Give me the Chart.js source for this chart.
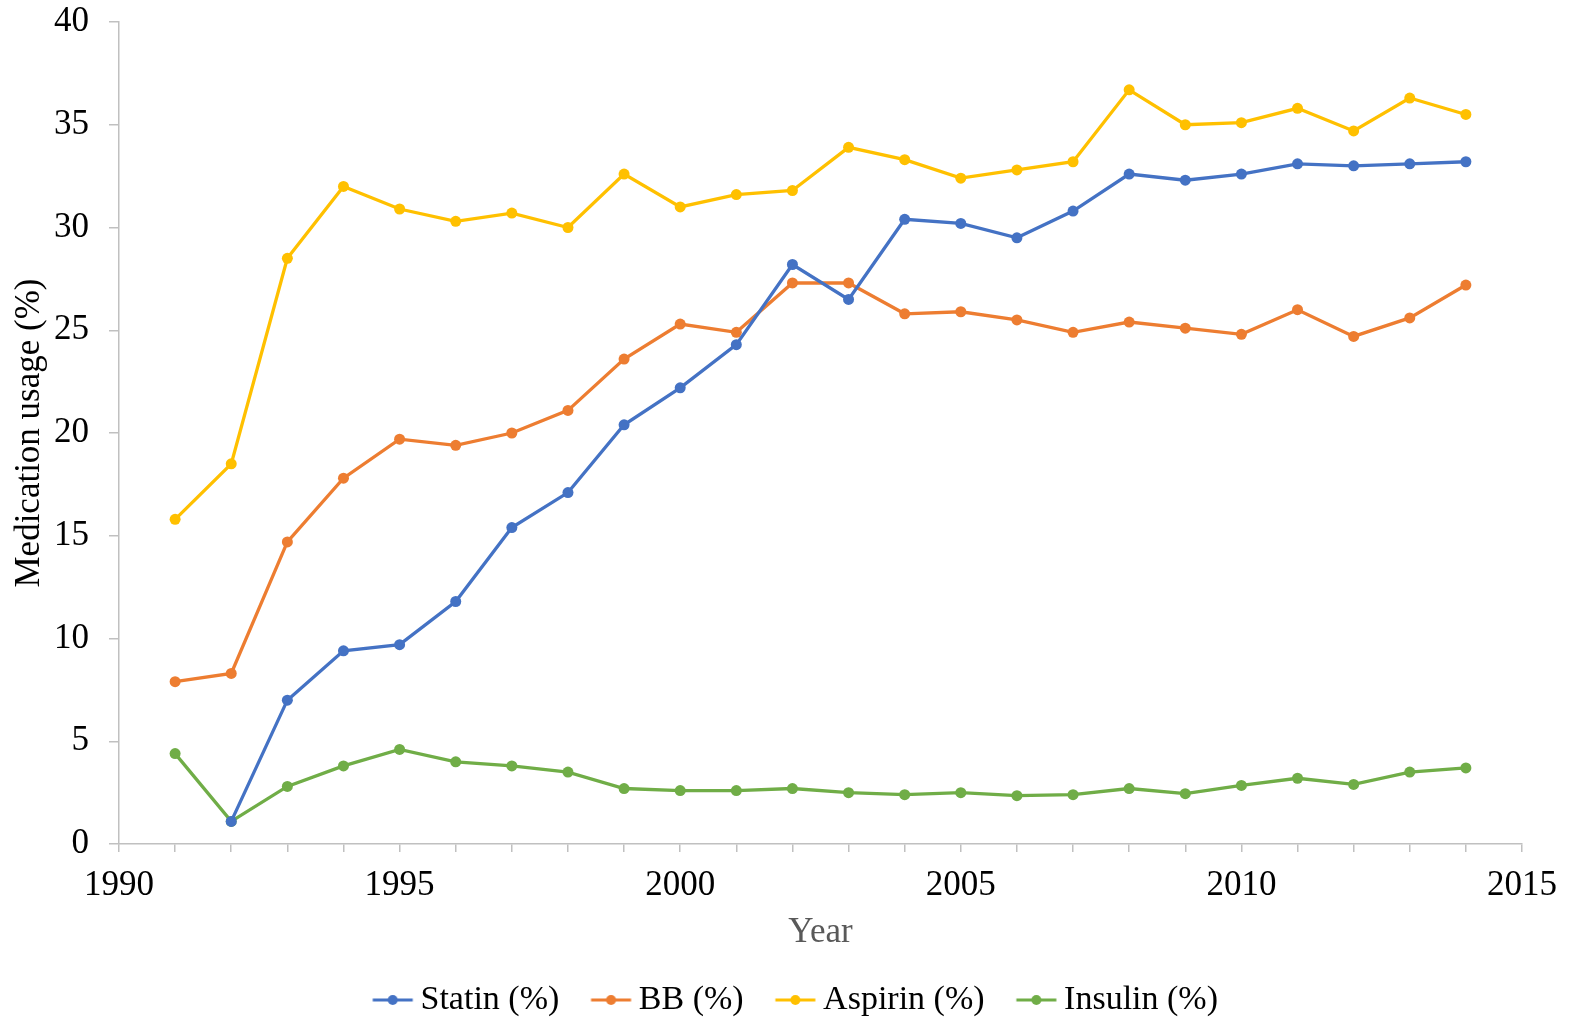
<!DOCTYPE html>
<html>
<head>
<meta charset="utf-8">
<title>Medication usage by year</title>
<script src="https://cdn.jsdelivr.net/npm/chart.js@4.4.1/dist/chart.umd.min.js"></script>
<style>
  html, body { margin: 0; padding: 0; background: #ffffff; }
  canvas { display: block; }
</style>
</head>
<body>
<canvas id="chart" width="1579" height="1021"></canvas>
<script>
// Survey years
const years = [1991, 1992, 1993, 1994, 1995, 1996, 1997, 1998, 1999, 2000, 2001, 2002,
               2003, 2004, 2005, 2006, 2007, 2008, 2009, 2010, 2011, 2012, 2013, 2014];

// Share of patients on each medication (%)
const statin  = [null, 1.1, 7.0, 9.4, 9.7, 11.8, 15.4, 17.1, 20.4, 22.2, 24.3, 28.2,
                 26.5, 30.4, 30.2, 29.5, 30.8, 32.6, 32.3, 32.6, 33.1, 33.0, 33.1, 33.2];
const bb      = [7.9, 8.3, 14.7, 17.8, 19.7, 19.4, 20.0, 21.1, 23.6, 25.3, 24.9, 27.3,
                 27.3, 25.8, 25.9, 25.5, 24.9, 25.4, 25.1, 24.8, 26.0, 24.7, 25.6, 27.2];
const aspirin = [15.8, 18.5, 28.5, 32.0, 30.9, 30.3, 30.7, 30.0, 32.6, 31.0, 31.6, 31.8,
                 33.9, 33.3, 32.4, 32.8, 33.2, 36.7, 35.0, 35.1, 35.8, 34.7, 36.3, 35.5];
const insulin = [4.4, 1.1, 2.8, 3.8, 4.6, 4.0, 3.8, 3.5, 2.7, 2.6, 2.6, 2.7,
                 2.5, 2.4, 2.5, 2.35, 2.4, 2.7, 2.45, 2.85, 3.2, 2.9, 3.5, 3.7];

const seriesNames = ['Statin (%)', 'BB (%)', 'Aspirin (%)', 'Insulin (%)'];
const seriesColors = ['#4472C4', '#ED7D31', '#FFC000', '#70AD47'];

// Axis settings
const yMin = 0, yMax = 40, yStep = 5;
const xMin = 1990, xMax = 2015, xMajorStep = 5;
const xTitle = 'Year';
const yTitle = 'Medication usage (%)';

const FONT = '"Liberation Serif", "Times New Roman", Times, serif';
const AXIS_GREY = '#c0c0c0';
const AXIS_FONT_SIZE = 35;
const LEGEND_FONT_SIZE = 34;

function toPoints(values) {
  return years.map((yr, i) => ({ x: yr, y: values[i] }));
}

// Legend swatch: a short line with a dot in the middle (right part of a wider transparent image)
function legendSwatch(color) {
  const c = document.createElement('canvas');
  c.width = 72; c.height = 14;
  const g = c.getContext('2d');
  g.strokeStyle = color;
  g.lineWidth = 3;
  g.beginPath();
  g.moveTo(26.5, 7);
  g.lineTo(66.5, 7);
  g.stroke();
  g.fillStyle = color;
  g.beginPath();
  g.arc(46.5, 7, 5, 0, Math.PI * 2);
  g.fill();
  return c;
}

const allValues = [statin, bb, aspirin, insulin];
const datasets = allValues.map((vals, i) => ({
  label: seriesNames[i],
  data: toPoints(vals),
  borderColor: seriesColors[i],
  backgroundColor: seriesColors[i],
  borderWidth: 3.3,
  pointRadius: 5.5,
  pointHoverRadius: 5.5,
  pointBorderWidth: 0,
  pointBackgroundColor: seriesColors[i],
  tension: 0,
  spanGaps: false,
  fill: false
}));

Chart.defaults.font.family = FONT;
Chart.defaults.color = '#000000';

new Chart(document.getElementById('chart'), {
  type: 'line',
  data: { datasets },
  options: {
    responsive: false,
    animation: false,
    layout: { padding: { top: 22, right: 0, bottom: -6, left: 0 } },
    plugins: {
      tooltip: { enabled: false },
      legend: {
        position: 'bottom',
        align: 'center',
        labels: {
          usePointStyle: true,
          pointStyleWidth: 42.5,
          padding: 20,
          color: '#000000',
          font: { size: LEGEND_FONT_SIZE, family: FONT },
          generateLabels(chart) {
            return chart.data.datasets.map((ds, i) => ({
              text: ds.label,
              fillStyle: ds.borderColor,
              strokeStyle: ds.borderColor,
              lineWidth: 0,
              pointStyle: legendSwatch(ds.borderColor),
              hidden: false,
              datasetIndex: i
            }));
          }
        }
      }
    },
    scales: {
      x: {
        type: 'linear',
        min: xMin,
        max: xMax,
        border: { display: true, color: AXIS_GREY, width: 1.5 },
        grid: {
          drawOnChartArea: false,
          drawTicks: true,
          tickLength: 8,
          color: AXIS_GREY,
          lineWidth: 1.5
        },
        ticks: {
          stepSize: 1,
          autoSkip: false,
          maxRotation: 0,
          padding: 13,
          color: '#000000',
          font: { size: AXIS_FONT_SIZE, family: FONT },
          callback: (v) => (v % xMajorStep === 0 ? String(v) : '')
        },
        title: {
          display: true,
          text: xTitle,
          color: '#595959',
          font: { size: AXIS_FONT_SIZE, family: FONT },
          padding: { top: 0, bottom: 9 }
        },
        afterFit(scale) {
          scale.height = 119;
          scale.paddingLeft = 0;
          scale.paddingRight = 57;
        }
      },
      y: {
        type: 'linear',
        min: yMin,
        max: yMax,
        border: { display: true, color: AXIS_GREY, width: 1.5 },
        grid: {
          drawOnChartArea: false,
          drawTicks: true,
          tickLength: 10,
          color: AXIS_GREY,
          lineWidth: 1.5
        },
        ticks: {
          stepSize: yStep,
          padding: 20,
          color: '#000000',
          font: { size: AXIS_FONT_SIZE, family: FONT }
        },
        title: {
          display: true,
          text: yTitle,
          color: '#000000',
          font: { size: AXIS_FONT_SIZE, family: FONT },
          padding: { top: 9, bottom: 0 }
        },
        afterFit(scale) {
          scale.width = 119;
          scale.paddingTop = 0;
          scale.paddingBottom = 0;
        }
      }
    }
  }
});
</script>
</body>
</html>
